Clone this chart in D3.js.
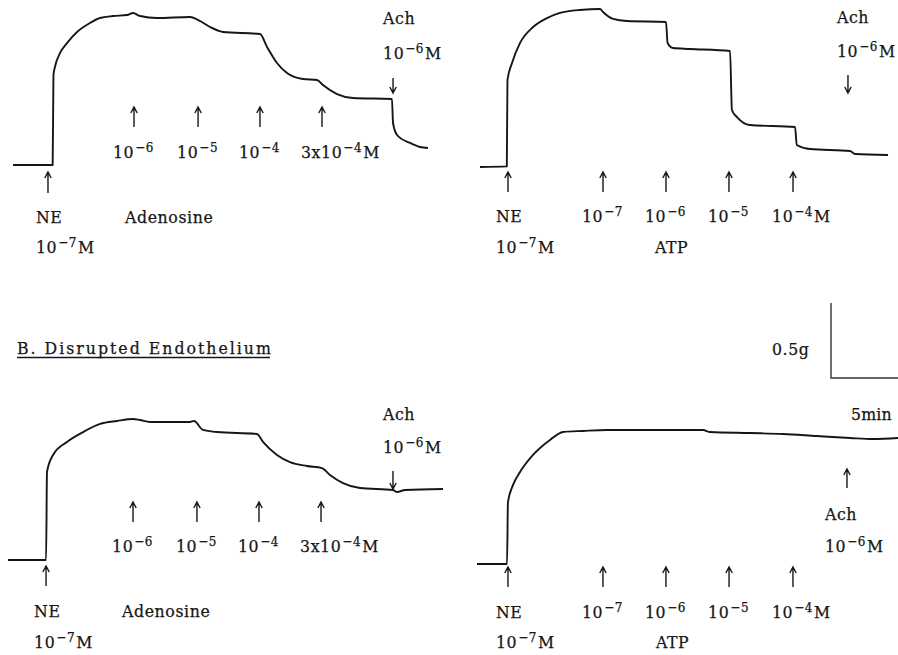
<!DOCTYPE html>
<html><head><meta charset="utf-8">
<script src="https://cdn.jsdelivr.net/npm/d3@7"></script>
<style>html,body{margin:0;padding:0;background:#fff;} svg{display:block}</style>
</head><body><svg id="chart" width="898" height="655"></svg>
<script>
// ---------------- DATA ----------------
// Each trace: [time (min from start of recording), tension (g above resting baseline)]
const traceAdenosineIntact = [[0,0],[2.96,0],[3.02,0.60],[3.13,0.653],[3.51,0.747],[4.03,0.813],[4.78,0.887],[5.75,0.947],[6.49,0.98],[7.46,0.993],[8.51,1.0],[8.96,1.013],[9.48,0.993],[10.75,0.98],[13.21,0.987],[13.96,0.96],[14.70,0.92],[15.67,0.887],[18.43,0.873],[18.96,0.787],[19.70,0.68],[20.45,0.613],[21.64,0.573],[22.69,0.567],[23.13,0.533],[24.18,0.473],[25.37,0.447],[28.28,0.44],[28.36,0.28],[28.66,0.20],[29.63,0.147],[30.37,0.12],[30.97,0.113]];
const traceATPIntact = [[0,0],[2.0,0.004],[2.05,0.58],[2.39,0.693],[2.99,0.827],[3.96,0.933],[5.0,0.993],[5.97,1.027],[7.46,1.047],[8.96,1.053],[9.18,1.033],[9.93,0.987],[10.97,0.973],[13.88,0.967],[14.0,0.827],[14.40,0.793],[15.67,0.787],[18.66,0.773],[18.80,0.38],[19.18,0.333],[20.15,0.28],[23.51,0.267],[23.64,0.147],[24.63,0.12],[27.61,0.107],[27.99,0.087],[30.45,0.08]];
const traceAdenosineDisrupted = [[0,0],[2.84,0],[2.91,0.587],[3.36,0.70],[4.40,0.787],[5.60,0.853],[6.87,0.907],[8.13,0.927],[9.33,0.94],[9.85,0.933],[10.60,0.92],[13.58,0.92],[13.88,0.927],[14.55,0.867],[15.60,0.853],[18.58,0.84],[19.03,0.787],[20.07,0.70],[21.04,0.653],[22.31,0.627],[23.43,0.613],[24.03,0.567],[25.0,0.513],[26.27,0.48],[28.73,0.467],[29.03,0.453],[29.63,0.467],[32.46,0.473]];
const traceATPDisrupted = [[0,0],[2.24,0],[2.31,0.413],[2.69,0.527],[3.21,0.613],[4.18,0.727],[5.45,0.827],[6.42,0.88],[7.91,0.887],[9.70,0.893],[13.66,0.893],[16.87,0.893],[17.39,0.88],[20.37,0.873],[22.84,0.867],[25.37,0.853],[27.84,0.84],[29.55,0.833],[31.42,0.84]];

const adenosineDoses = ["10^-6", "10^-5", "10^-4", "3x10^-4M"];
const atpDoses = ["10^-7", "10^-6", "10^-5", "10^-4M"];
const adenosineTimesIntact = [9.03, 13.81, 18.43, 23.06];
const atpTimesIntact = [9.18, 13.88, 18.58, 23.36];
const adenosineTimesDisrupted = [9.33, 14.10, 18.73, 23.36];
const atpTimesDisrupted = [9.40, 14.10, 18.81, 23.58];
const neTimes = [2.61, 2.09, 2.84, 2.31];
const achTimes = [28.36, 27.46, 28.73, 27.61];
const neLabels = ["NE", "10^-7M"];
const achLabels = ["Ach", "10^-6M"];
const drugNames = ["Adenosine", "ATP"];
const sectionTitle = "B. Disrupted Endothelium";
const scaleBarGrams = 0.5;
const scaleBarMinutes = 5;
const scaleBarLabels = ["0.5g", "5min"];

// ---------------- DRAWING ----------------
const svg = d3.select("#chart");
const x = d3.scaleLinear().domain([0, scaleBarMinutes]).range([0, 67]);
const y = d3.scaleLinear().domain([0, scaleBarGrams]).range([0, -75]);
const line = d3.line().x(d => x(d[0])).y(d => y(d[1])).curve(d3.curveMonotoneX);
const INK = "#161616";
const FONT = "'DejaVu Serif Condensed','DejaVu Serif',serif";

function label(parent, px, py, str) {
  const t = parent.append("text")
    .attr("x", px).attr("y", py)
    .attr("font-family", FONT).attr("font-stretch", "condensed")
    .attr("font-size", 17.5).attr("letter-spacing", 0.6).attr("fill", INK)
    .attr("stroke", INK).attr("stroke-width", 0.25);
  const re = /\^(-?\d+)/g; let last = 0, m, raised = false;
  while ((m = re.exec(str))) {
    if (m.index > last) {
      t.append("tspan").attr("dy", raised ? 6 : 0).attr("dx", raised ? 1 : 0).text(str.slice(last, m.index));
      raised = false;
    }
    t.append("tspan").attr("font-size", "0.76em").attr("dx", 1).attr("dy", raised ? 0 : -6).text(m[1].replace("-", "\u2212"));
    raised = true; last = re.lastIndex;
  }
  if (last < str.length) t.append("tspan").attr("dy", raised ? 6 : 0).attr("dx", raised ? 1 : 0).text(str.slice(last));
  return t;
}

function arrow(parent, ax, yTop, yBot, dir) {
  const tip = dir === "up" ? yTop : yBot;
  const s = dir === "up" ? 6 : -6;
  parent.append("path")
    .attr("d", `M${ax},${yBot}L${ax},${yTop}M${ax - 3.2},${tip + s}L${ax},${tip}L${ax + 3.2},${tip + s}`)
    .attr("fill", "none").attr("stroke", INK).attr("stroke-width", 1.4);
}

const panels = [
  { trace: traceAdenosineIntact, doses: adenosineDoses, doseTimes: adenosineTimesIntact, drug: drugNames[0],
    ne: neTimes[0], ach: achTimes[0], origin: [13, 165],
    neArrow: [172, 193], doseArrow: [107, 127], doseBase: 158, neBase: [223, 253],
    drugRef: 0, drugDx: -9, drugBase: 223, achArrow: [78, 93], achDir: "down", achDx: -10, achBase: [24, 59] },
  { trace: traceATPIntact, doses: atpDoses, doseTimes: atpTimesIntact, drug: drugNames[1],
    ne: neTimes[1], ach: achTimes[1], origin: [480, 167],
    neArrow: [172, 192], doseArrow: [172, 192], doseBase: 222, neBase: [222, 253],
    drugRef: 1, drugDx: -11, drugBase: 253, achArrow: [75, 93], achDir: "down", achDx: -11, achBase: [23, 57] },
  { trace: traceAdenosineDisrupted, doses: adenosineDoses, doseTimes: adenosineTimesDisrupted, drug: drugNames[0],
    ne: neTimes[2], ach: achTimes[2], origin: [8, 560],
    neArrow: [566, 586], doseArrow: [502, 522], doseBase: 552, neBase: [617, 648],
    drugRef: 0, drugDx: -11, drugBase: 617, achArrow: [471, 489], achDir: "down", achDx: -10, achBase: [420, 453] },
  { trace: traceATPDisrupted, doses: atpDoses, doseTimes: atpTimesDisrupted, drug: drugNames[1],
    ne: neTimes[3], ach: achTimes[3], origin: [477, 564],
    neArrow: [567, 587], doseArrow: [567, 587], doseBase: 618, neBase: [618, 648],
    drugRef: 1, drugDx: -10, drugBase: 648, achArrow: [469, 488], achDir: "up", achDx: -22, achBase: [520, 552] }
];

panels.forEach(p => {
  const ox = p.origin[0], oy = p.origin[1];
  svg.append("path").datum(p.trace)
    .attr("transform", `translate(${ox},${oy})`)
    .attr("d", line).attr("fill", "none").attr("stroke", INK)
    .attr("stroke-width", 1.9).attr("stroke-linejoin", "round");
  const g = svg.append("g");
  const nx = ox + x(p.ne);
  arrow(g, nx, p.neArrow[0], p.neArrow[1], "up");
  label(g, nx - 12, p.neBase[0], neLabels[0]);
  label(g, nx - 12, p.neBase[1], neLabels[1]);
  p.doseTimes.forEach((t, i) => {
    const dx = ox + x(t);
    arrow(g, dx, p.doseArrow[0], p.doseArrow[1], "up");
    label(g, dx - 21, p.doseBase, p.doses[i]);
  });
  label(g, ox + x(p.doseTimes[p.drugRef]) + p.drugDx, p.drugBase, p.drug);
  const ax = ox + x(p.ach);
  arrow(g, ax, p.achArrow[0], p.achArrow[1], p.achDir);
  label(g, ax + p.achDx, p.achBase[0], achLabels[0]);
  label(g, ax + p.achDx, p.achBase[1], achLabels[1]);
});

// Section title
label(svg, 17, 354, sectionTitle).attr("letter-spacing", 2.0);
svg.append("line").attr("x1", 17).attr("x2", 270).attr("y1", 357.5).attr("y2", 357.5)
  .attr("stroke", INK).attr("stroke-width", 1.5);

// Scale bar
const sb = svg.append("g").attr("transform", "translate(831,378)");
sb.append("path")
  .attr("d", `M0,${y(scaleBarGrams)}L0,0L${x(scaleBarMinutes)},0`)
  .attr("fill", "none").attr("stroke", "#333").attr("stroke-width", 1.4);
label(svg, 772, 355, scaleBarLabels[0]);
label(svg, 851, 420, scaleBarLabels[1]).attr("letter-spacing", 0.2);
</script></body></html>
